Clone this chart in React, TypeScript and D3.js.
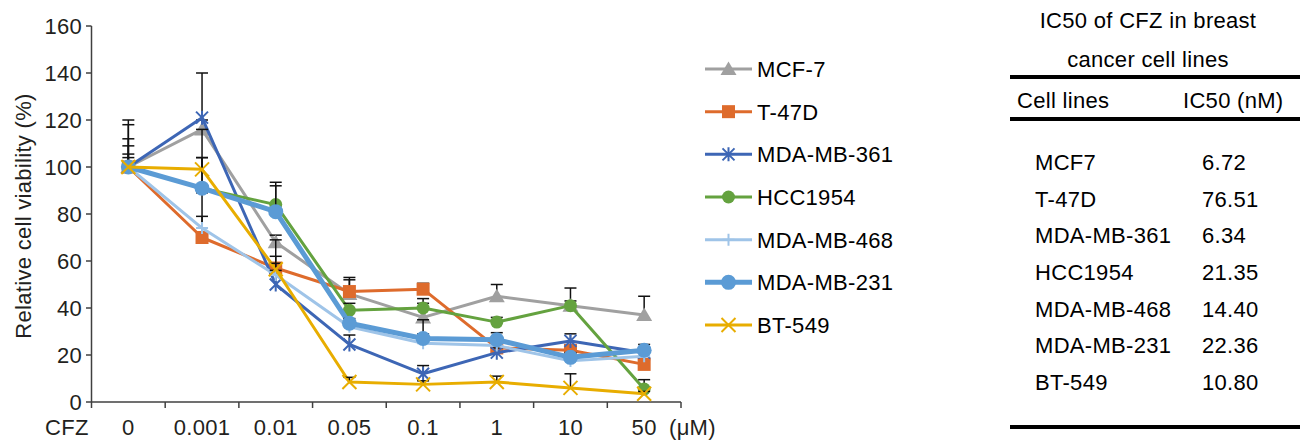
import React from "react";
import * as d3 from "d3";

const categories = ["0", "0.001", "0.01", "0.05", "0.1", "1", "10", "50"];
const yTicks = [0, 20, 40, 60, 80, 100, 120, 140, 160];

const seriesNames = ["MCF-7", "T-47D", "MDA-MB-361", "HCC1954", "MDA-MB-468", "MDA-MB-231", "BT-549"];
const mcf7 = [100, 116, 68, 46, 36, 45, 41, 37];
const t47d = [100, 70, 57, 47, 48, 23, 22, 16];
const mdamb361 = [100, 121, 50, 24.5, 12, 21, 26, 21];
const hcc1954 = [100, 91, 84, 39, 40, 34, 41, 5.5];
const mdamb468 = [100, 74, 54, 32, 25, 24, 17.5, 19.5];
const mdamb231 = [100, 91, 81, 33.5, 27, 26.5, 19, 22];
const bt549 = [100, 99, 56.5, 8.5, 7.5, 8.5, 6, 3.5];

const mcf7Err = [20, 4, 3, 6, 8, 5, 7.5, 8];
const t47dErr = [18, 19, 5, 6, 2.5, 2, 2, 2];
const mdamb361Err = [12, 19, 19, 4, 3.5, 2, 3, 2];
const hcc1954Err = [9, 25, 9.5, 3, 2, 2, 2, 4];
const mdamb468Err = [5.5, 5, 2, 2, 10, 2, 2, 2];
const mdamb231Err = [4, 13, 11, 2, 2, 3, 2, 2.5];
const bt549Err = [0, 5, 2.5, 2, 1.5, 2.5, 6, 1];

const tableNames = ["MCF7", "T-47D", "MDA-MB-361", "HCC1954", "MDA-MB-468", "MDA-MB-231", "BT-549"];
const tableValues = ["6.72", "76.51", "6.34", "21.35", "14.40", "22.36", "10.80"];

const colors = ["#A0A0A0", "#DE6B2C", "#3D66B5", "#64A23F", "#9FC4E8", "#5B9BD5", "#E8AD00"];
const widths = [3, 3, 3, 3, 3, 5, 3];
const markers = ["triangle", "square", "star", "circle", "plus", "bigcircle", "x"];
const values = [mcf7, t47d, mdamb361, hcc1954, mdamb468, mdamb231, bt549];
const errs = [mcf7Err, t47dErr, mdamb361Err, hcc1954Err, mdamb468Err, mdamb231Err, bt549Err];

const FONT = "'Liberation Sans', Arial, sans-serif";
const TXT = "#231F20";
const FS = 22;
const LS = 0.3;

function Marker({ type, x, y, color }: { type: string; x: number; y: number; color: string }) {
  switch (type) {
    case "triangle":
      return <path d={`M${x},${y - 7.5}L${x + 8},${y + 6}L${x - 8},${y + 6}Z`} fill={color} />;
    case "square":
      return <rect x={x - 6.5} y={y - 6.5} width={13} height={13} fill={color} />;
    case "star":
      return (
        <path
          d={`M${x - 6},${y - 6}L${x + 6},${y + 6}M${x - 6},${y + 6}L${x + 6},${y - 6}M${x},${y - 7}L${x},${y + 7}`}
          stroke={color}
          strokeWidth={2}
          fill="none"
        />
      );
    case "circle":
      return <circle cx={x} cy={y} r={6.5} fill={color} />;
    case "bigcircle":
      return <circle cx={x} cy={y} r={7.5} fill={color} />;
    case "plus":
      return (
        <path d={`M${x - 6},${y}L${x + 6},${y}M${x},${y - 6}L${x},${y + 6}`} stroke={color} strokeWidth={2} fill="none" />
      );
    case "x":
      return (
        <path
          d={`M${x - 7},${y - 7}L${x + 7},${y + 7}M${x - 7},${y + 7}L${x + 7},${y - 7}`}
          stroke={color}
          strokeWidth={2}
          fill="none"
        />
      );
  }
  return null;
}

export default function App() {
  const W = 1301;
  const H = 440;
  const x = d3.scaleBand<string>().domain(categories).range([91.5, 681]);
  const y = d3.scaleLinear().domain([0, 160]).range([402, 26]);
  const cx = (c: string) => (x(c) as number) + x.bandwidth() / 2;
  const line = d3
    .line<number>()
    .x((_, i) => cx(categories[i]))
    .y((d) => y(d));

  const legendY = d3.scalePoint<string>().domain(seriesNames).range([69, 325]);
  const rowY = d3.scalePoint<string>().domain(tableNames).range([170, 390]);

  return (
    <svg width={W} height={H} style={{ position: "absolute", left: 0, top: 0, background: "#fff" }}>
      <rect width={W} height={H} fill="#fff" />
      {/* axes */}
      <g stroke="#404040" strokeWidth={1.5}>
        <line x1={91.5} x2={91.5} y1={y(160)} y2={y(0)} />
        <line x1={91.5} x2={681} y1={y(0)} y2={y(0)} />
        {yTicks.map((t) => (
          <line key={t} x1={86} x2={91.5} y1={y(t)} y2={y(t)} />
        ))}
        {categories.map((c) => (
          <line key={c} x1={x(c) as number} x2={x(c) as number} y1={y(0)} y2={y(0) + 6} />
        ))}
        <line x1={681} x2={681} y1={y(0)} y2={y(0) + 6} />
      </g>
      <g fontFamily={FONT} fontSize={FS} fill={TXT} letterSpacing={LS}>
        {yTicks.map((t) => (
          <text key={t} x={82} y={y(t)} dy="0.36em" textAnchor="end">
            {t}
          </text>
        ))}
        {categories.map((c) => (
          <text key={c} x={cx(c)} y={435} textAnchor="middle">
            {c}
          </text>
        ))}
        <text x={45} y={435}>CFZ</text>
        <text x={669} y={435}>(μM)</text>
        <text transform={`translate(31,216) rotate(-90)`} textAnchor="middle">
          Relative cell viability (%)
        </text>
      </g>
      {/* series */}
      {values.map((vals, si) => (
        <g key={si}>
          <path d={line(vals) || ""} fill="none" stroke={colors[si]} strokeWidth={widths[si]} strokeLinejoin="round" />
          <g stroke="#111" strokeWidth={1.5}>
            {vals.map((v, i) =>
              errs[si][i] > 0 ? (
                <g key={i}>
                  <line x1={cx(categories[i])} x2={cx(categories[i])} y1={y(v)} y2={y(v + errs[si][i])} />
                  <line
                    x1={cx(categories[i]) - 6}
                    x2={cx(categories[i]) + 6}
                    y1={y(v + errs[si][i])}
                    y2={y(v + errs[si][i])}
                  />
                </g>
              ) : null
            )}
          </g>
          {vals.map((v, i) => (
            <Marker key={i} type={markers[si]} x={cx(categories[i])} y={y(v)} color={colors[si]} />
          ))}
        </g>
      ))}
      {/* legend */}
      {seriesNames.map((n, si) => {
        const ly = legendY(n) as number;
        return (
          <g key={n}>
            <line x1={705} x2={752} y1={ly} y2={ly} stroke={colors[si]} strokeWidth={widths[si]} />
            <Marker type={markers[si]} x={728.5} y={ly} color={colors[si]} />
            <text x={757} y={ly} dy="0.36em" fontFamily={FONT} fontSize={FS} letterSpacing={LS} fill="#000">
              {n}
            </text>
          </g>
        );
      })}
      {/* table */}
      <g fontFamily={FONT} fontSize={FS} letterSpacing={LS} fill="#000">
        <text x={1148} y={28} textAnchor="middle">IC50 of CFZ in breast</text>
        <text x={1148} y={67} textAnchor="middle">cancer cell lines</text>
        <line x1={1010} x2={1300} y1={77} y2={77} stroke="#000" strokeWidth={4} />
        <text x={1017} y={108}>Cell lines</text>
        <text x={1183} y={108}>IC50 (nM)</text>
        <line x1={1010} x2={1300} y1={119} y2={119} stroke="#000" strokeWidth={4} />
        {tableNames.map((n, i) => (
          <g key={n}>
            <text x={1035} y={rowY(n) as number}>{n}</text>
            <text x={1202} y={rowY(n) as number}>{tableValues[i]}</text>
          </g>
        ))}
        <line x1={1010} x2={1300} y1={427} y2={427} stroke="#000" strokeWidth={4} />
      </g>
    </svg>
  );
}
